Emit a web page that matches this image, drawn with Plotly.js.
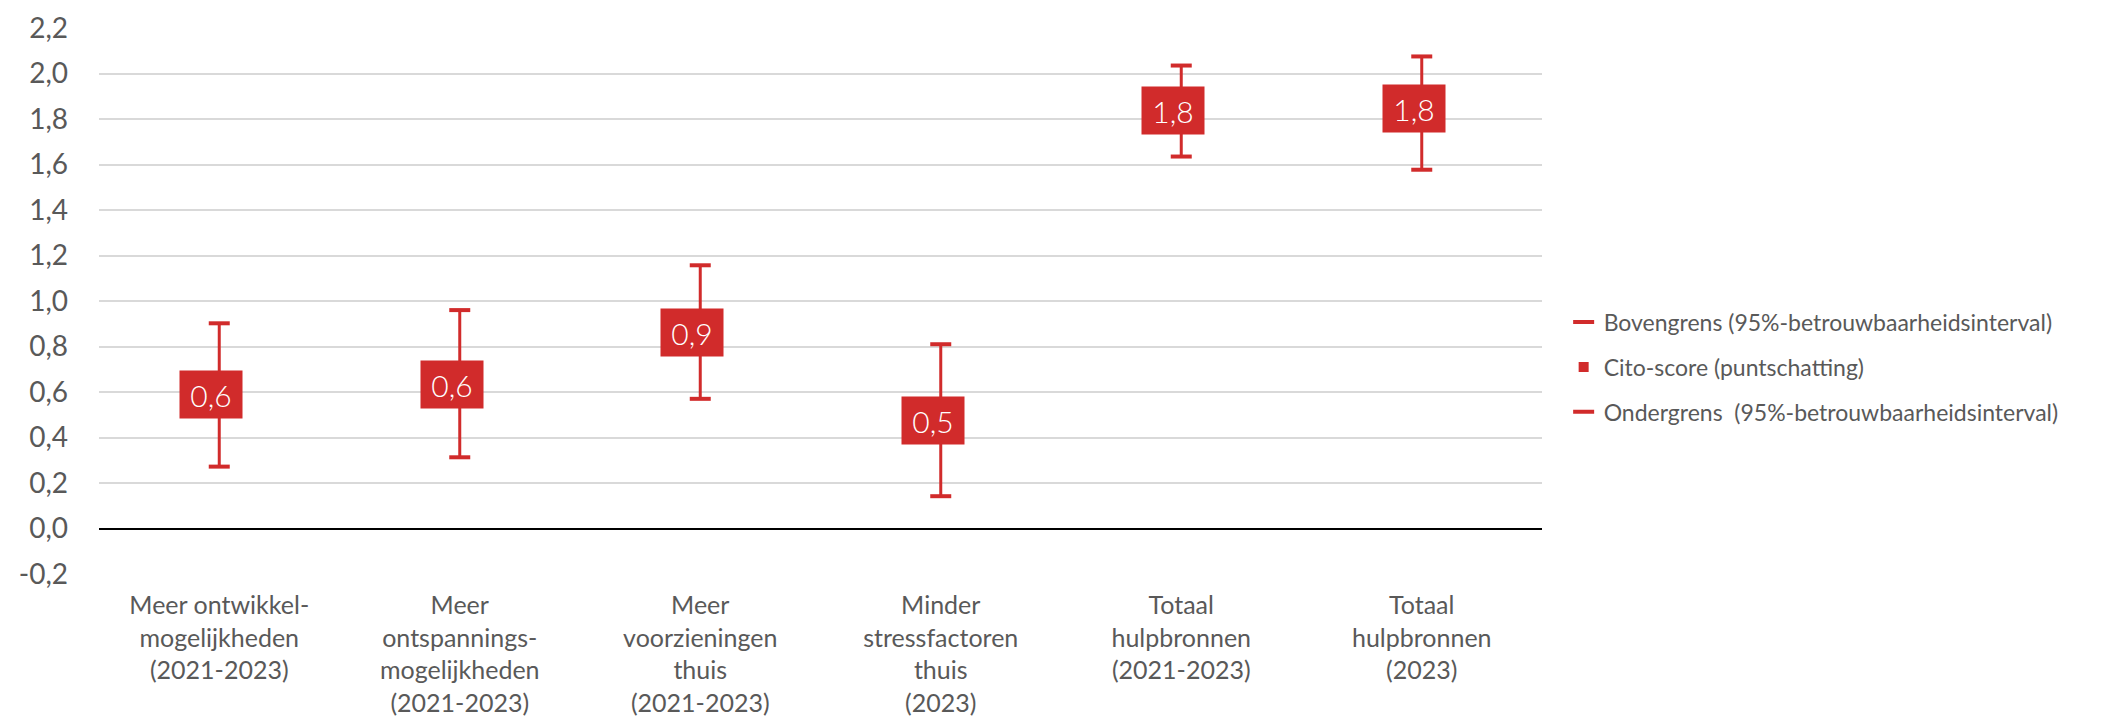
<!DOCTYPE html>
<html>
<head>
<meta charset="utf-8">
<script src="https://cdn.plot.ly/plotly-3.0.1.min.js"></script>
<style>
html,body{margin:0;padding:0;background:#fff;}
#chart{width:2103px;height:717px;}
</style>
</head>
<body>
<div id="chart"></div>
<script>
const categories = [
  "Meer ontwikkel-<br>mogelijkheden<br>(2021-2023)",
  "Meer<br>ontspannings-<br>mogelijkheden<br>(2021-2023)",
  "Meer<br>voorzieningen<br>thuis<br>(2021-2023)",
  "Minder<br>stressfactoren<br>thuis<br>(2023)",
  "Totaal<br>hulpbronnen<br>(2021-2023)",
  "Totaal<br>hulpbronnen<br>(2023)"
];
const upperBound = [0.902, 0.960, 1.157, 0.810, 2.035, 2.075];
const pointEstimate = [0.588, 0.635, 0.862, 0.476, 1.836, 1.845];
const lowerBound = [0.272, 0.313, 0.570, 0.142, 1.635, 1.577];
const seriesNames = [
  "Bovengrens (95%-betrouwbaarheidsinterval)",
  "Cito-score (puntschatting)",
  "Ondergrens  (95%-betrouwbaarheidsinterval)"
];
const yTickVals = [-0.2, 0, 0.2, 0.4, 0.6, 0.8, 1.0, 1.2, 1.4, 1.6, 1.8, 2.0, 2.2];
const yTickText = ["-0,2","0,0","0,2","0,4","0,6","0,8","1,0","1,2","1,4","1,6","1,8","2,0","2,2"];

const RED = "#D12B2B";
const TXT = "#595959";
const FONT = "Lato, 'Open Sans', sans-serif";

// whiskers
const wx = [], wy = [];
categories.forEach((c, i) => { wx.push(c, c, null); wy.push(lowerBound[i], upperBound[i], null); });

const traces = [
  {x: wx, y: wy, type: "scatter", mode: "lines", line: {color: RED, width: 3}, showlegend: false, hoverinfo: "skip"},
  {x: categories, y: upperBound, type: "scatter", mode: "markers", name: seriesNames[0], legendgroup: "a",
   marker: {symbol: "line-ew", size: 15, color: RED, line: {color: RED, width: 4}}},
  {x: categories, y: pointEstimate, type: "scatter", mode: "markers", name: seriesNames[1], legendgroup: "b",
   marker: {symbol: "square", size: 10, color: RED}},
  {x: categories, y: lowerBound, type: "scatter", mode: "markers", name: seriesNames[2], legendgroup: "c",
   marker: {symbol: "line-ew", size: 15, color: RED, line: {color: RED, width: 4}}}
];

const annotations = categories.map((c, i) => ({
  x: c, y: pointEstimate[i], xref: "x", yref: "y",
  text: pointEstimate[i].toFixed(1).replace(".", ","),
  showarrow: false, xshift: -8,
  font: {family: FONT, size: 30, color: "#ffffff", weight: 300},
  bgcolor: RED, borderpad: 5, width: 52, height: 37
}));

const layout = {
  width: 2103, height: 717,
  margin: {l: 99, r: 561, t: 28, b: 143, pad: 0},
  paper_bgcolor: "#fff", plot_bgcolor: "#fff",
  font: {family: FONT, color: TXT},
  showlegend: true,
  legend: {x: 1.015, xanchor: "left", y: 0.379, yanchor: "middle", yref: "paper",
           font: {family: FONT, size: 23, color: TXT}, tracegroupgap: 12, traceorder: "grouped",
           bgcolor: "rgba(0,0,0,0)"},
  xaxis: {type: "category", categoryarray: categories, range: [-0.5, 5.5], showgrid: false, zeroline: false, showline: false,
          ticks: "", tickfont: {family: FONT, size: 25, color: TXT}, ticklabelstandoff: 14, fixedrange: true},
  yaxis: {range: [-0.2, 2.2], tickvals: yTickVals, ticktext: yTickText, showgrid: true,
          gridcolor: "#D9D9D9", gridwidth: 2, zeroline: true, zerolinecolor: "#000000", zerolinewidth: 2,
          showline: false, ticks: "", tickfont: {family: FONT, size: 28, color: TXT}, ticklabelstandoff: 30,
          fixedrange: true},
  annotations: annotations
};

Plotly.newPlot("chart", traces, layout, {displayModeBar: false, staticPlot: true});
</script>
</body>
</html>
